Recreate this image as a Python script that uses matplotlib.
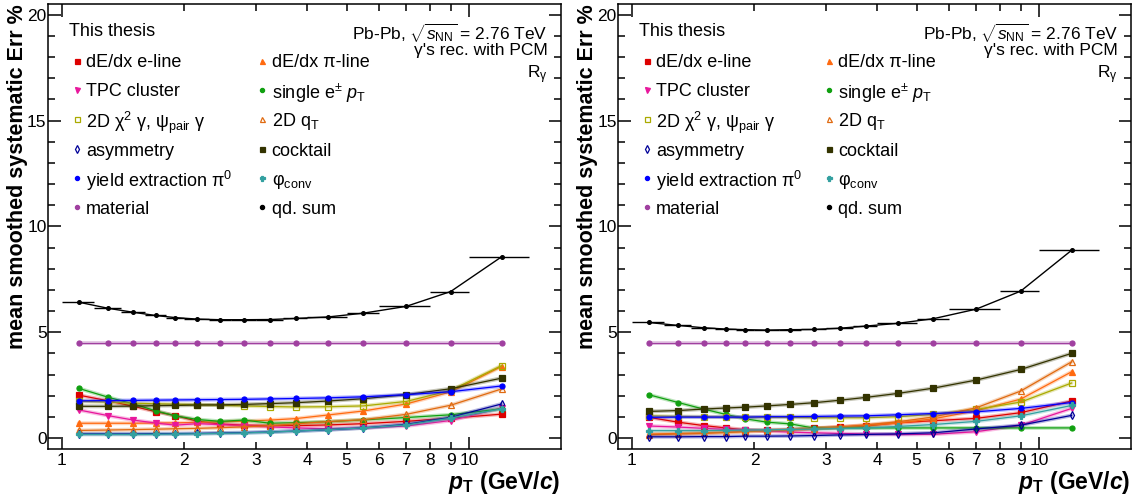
import matplotlib
matplotlib.use('Agg')
import matplotlib.pyplot as plt
import numpy as np
from matplotlib.ticker import FixedLocator, FixedFormatter, MultipleLocator, NullFormatter

plt.rcParams['font.family'] = ['Liberation Sans', 'DejaVu Sans']
plt.rcParams['mathtext.fontset'] = 'custom'
plt.rcParams['mathtext.rm'] = 'Liberation Sans'
plt.rcParams['mathtext.it'] = 'Liberation Sans:italic'
plt.rcParams['mathtext.bf'] = 'Liberation Sans:bold'
try:
    plt.rcParams['mathtext.bfit'] = 'Liberation Sans:bold:italic'
    HAS_BFIT = True
except KeyError:
    HAS_BFIT = False

# ---------------- data ----------------
pt_centers = [1.1, 1.3, 1.5, 1.7, 1.9, 2.15, 2.45, 2.8, 3.25, 3.75, 4.5, 5.5, 7.0, 9.0, 12.0]
pt_low     = [1.0, 1.2, 1.4, 1.6, 1.8, 2.0, 2.3, 2.6, 3.0, 3.5, 4.0, 5.0, 6.0, 8.0, 10.0]
pt_high    = [1.2, 1.4, 1.6, 1.8, 2.0, 2.3, 2.6, 3.0, 3.5, 4.0, 5.0, 6.0, 8.0, 10.0, 14.0]

# left panel
e_line_L   = [2.03, 1.76, 1.50, 1.25, 1.06, 0.80, 0.66, 0.61, 0.59, 0.59, 0.62, 0.68, 0.79, 0.94, 1.13]
pi_line_L  = [0.70, 0.70, 0.70, 0.71, 0.72, 0.74, 0.77, 0.80, 0.85, 0.92, 1.09, 1.28, 1.61, 2.18, 3.38]
tpc_L      = [1.33, 1.06, 0.85, 0.71, 0.61, 0.68, 0.64, 0.58, 0.53, 0.48, 0.44, 0.48, 0.57, 0.83, 1.42]
single_e_L = [2.35, 1.93, 1.61, 1.29, 1.05, 0.88, 0.79, 0.85, 0.70, 0.73, 0.77, 0.86, 0.97, 1.10, 1.38]
chi2_L     = [1.74, 1.70, 1.65, 1.62, 1.60, 1.58, 1.55, 1.52, 1.49, 1.47, 1.48, 1.52, 1.73, 2.25, 3.42]
qt_L       = [0.36, 0.38, 0.40, 0.42, 0.44, 0.46, 0.49, 0.53, 0.59, 0.67, 0.78, 0.87, 1.12, 1.55, 2.32]
asym_L     = [0.20, 0.20, 0.20, 0.21, 0.21, 0.22, 0.24, 0.26, 0.29, 0.33, 0.39, 0.48, 0.65, 0.98, 1.61]
cocktail_L = [1.50, 1.50, 1.51, 1.53, 1.54, 1.56, 1.57, 1.59, 1.63, 1.67, 1.75, 1.86, 2.05, 2.33, 2.83]
yield_L    = [1.76, 1.77, 1.78, 1.79, 1.80, 1.81, 1.82, 1.83, 1.85, 1.87, 1.90, 1.95, 2.05, 2.19, 2.46]
phi_L      = [0.17, 0.17, 0.17, 0.18, 0.19, 0.20, 0.22, 0.24, 0.28, 0.33, 0.40, 0.48, 0.62, 0.94, 1.38]
material_L = [4.5] * 15
qd_sum_L   = [6.42, 6.13, 5.94, 5.79, 5.69, 5.62, 5.59, 5.59, 5.60, 5.65, 5.72, 5.90, 6.22, 6.92, 8.56]

# right panel
e_line_R   = [0.98, 0.75, 0.59, 0.48, 0.39, 0.36, 0.39, 0.47, 0.52, 0.57, 0.72, 0.82, 0.93, 1.20, 1.75]
pi_line_R  = [0.19, 0.22, 0.25, 0.28, 0.32, 0.36, 0.40, 0.45, 0.52, 0.60, 0.71, 0.91, 1.29, 1.84, 3.13]
tpc_R      = [0.57, 0.52, 0.46, 0.41, 0.38, 0.33, 0.28, 0.25, 0.22, 0.19, 0.17, 0.18, 0.30, 0.60, 1.40]
single_e_R = [2.05, 1.68, 1.37, 1.12, 0.91, 0.75, 0.67, 0.47, 0.48, 0.48, 0.48, 0.48, 0.48, 0.48, 0.48]
chi2_R     = [1.05, 1.02, 1.01, 0.99, 0.99, 0.98, 0.98, 0.96, 0.96, 0.96, 1.01, 1.12, 1.35, 1.70, 2.60]
qt_R       = [0.16, 0.19, 0.22, 0.26, 0.30, 0.34, 0.39, 0.45, 0.52, 0.62, 0.77, 1.00, 1.43, 2.22, 3.60]
asym_R     = [0.06, 0.06, 0.07, 0.07, 0.09, 0.09, 0.10, 0.12, 0.15, 0.17, 0.20, 0.25, 0.43, 0.61, 1.07]
cocktail_R = [1.26, 1.30, 1.37, 1.42, 1.46, 1.52, 1.59, 1.67, 1.79, 1.92, 2.11, 2.36, 2.74, 3.24, 4.00]
yield_R    = [0.98, 0.99, 0.99, 0.99, 0.99, 1.01, 1.01, 1.02, 1.04, 1.05, 1.10, 1.16, 1.24, 1.40, 1.68]
phi_R      = [0.35, 0.35, 0.35, 0.36, 0.38, 0.39, 0.41, 0.42, 0.45, 0.47, 0.55, 0.64, 0.79, 1.05, 1.54]
material_R = [4.5] * 15
qd_sum_R   = [5.46, 5.32, 5.21, 5.15, 5.12, 5.10, 5.12, 5.13, 5.19, 5.29, 5.42, 5.64, 6.09, 6.94, 8.87]

labels = [
    'dE/dx e-line', 'dE/dx \u03c0-line', 'TPC cluster', r'single e$^{\pm}$ $p_{\rm T}$',
    '2D \u03c7$^{2}$ \u03b3, \u03c8$_{\\rm pair}$ \u03b3', r'2D q$_{\rm T}$', 'asymmetry', 'cocktail',
    'yield extraction \u03c0$^{0}$', '\u03c6$_{\\rm conv}$', 'material', 'qd. sum',
]
colors  = ['#dd0000', '#ff6a10', '#e8179c', '#10a010', '#aaaa00', '#e06a10',
           '#000099', '#333300', '#0000ff', '#33a0a0', '#a040a0', '#000000']
markers = ['s', '^', 'v', 'o', 's', '^', 'd', 's', 'o', 'P', 'o', 'o']
filled  = [True, True, True, True, False, False, False, True, True, True, True, True]

left_data = [e_line_L, pi_line_L, tpc_L, single_e_L, chi2_L, qt_L, asym_L, cocktail_L,
             yield_L, phi_L, material_L, qd_sum_L]
right_data = [e_line_R, pi_line_R, tpc_R, single_e_R, chi2_R, qt_R, asym_R, cocktail_R,
              yield_R, phi_R, material_R, qd_sum_R]

# ---------------- figure ----------------
fig = plt.figure(figsize=(11.47, 4.98), dpi=100)
ax_rects = [[0.0421, 0.0978, 0.4467, 0.8932], [0.5391, 0.0978, 0.4467, 0.8932]]
# legend column positions (axes fraction) per panel
leg_cols = [(0.056, 0.074, 0.418, 0.436), (0.056, 0.074, 0.411, 0.429)]
row_y = [0.874, 0.808, 0.743, 0.675, 0.609, 0.544]

x = np.array(pt_centers)
xerr = [x - np.array(pt_low), np.array(pt_high) - x]

for p, (rect, data) in enumerate(zip(ax_rects, [left_data, right_data])):
    ax = fig.add_axes(rect)
    ax.set_xscale('log')
    for i, (lab, ys, c, m, f) in enumerate(zip(labels, data, colors, markers, filled)):
        if i == 11:
            ax.plot(x, ys, color=c, lw=1.0, zorder=20)
            ax.errorbar(x, ys, xerr=xerr, fmt='o', color=c, ms=2.6, elinewidth=1.0,
                        capsize=0, zorder=21)
        else:
            ax.plot(x, ys, color=c, lw=2.8, alpha=0.28, zorder=2 + i, solid_capstyle='round')
            ax.plot(x, ys, color=c, lw=0.9, marker=m, ms=4.2 if m != 'o' else 3.6,
                    mfc=c if f else 'none', mec=c, mew=0.9, zorder=3 + i)
    ax.set_xlim(0.927, 16.76)
    ax.set_ylim(-0.53, 20.48)

    # ticks
    ax.xaxis.set_major_locator(FixedLocator([1, 10]))
    ax.xaxis.set_major_formatter(FixedFormatter(['1', '10']))
    ax.xaxis.set_minor_locator(FixedLocator([2, 3, 4, 5, 6, 7, 8, 9]))
    ax.xaxis.set_minor_formatter(FixedFormatter(['2', '3', '4', '5', '6', '7', '8', '9']))
    ax.yaxis.set_major_locator(FixedLocator([0, 5, 10, 15, 20]))
    ax.yaxis.set_minor_locator(MultipleLocator(1))
    ax.yaxis.set_minor_formatter(NullFormatter())
    ax.tick_params(which='both', direction='in', top=True, right=True, width=1.1,
                   labelsize=12.5, colors='black')
    ax.tick_params(which='major', length=9)
    ax.tick_params(which='minor', length=5)
    ax.tick_params(axis='x', which='both', pad=2.5)
    ax.tick_params(axis='y', which='both', pad=1.2)
    for sp in ax.spines.values():
        sp.set_linewidth(1.1)

    # axis labels
    ax.set_ylabel('mean smoothed systematic Err %', fontsize=15.5, fontweight='bold', loc='top')
    ax.yaxis.set_label_coords(-0.040, 1.0)
    if HAS_BFIT:
        xl = r'$\mathbfit{p}_{\mathbf{T}}$ (GeV/$\mathbfit{c}$)'
    else:
        xl = r'$p_{\mathbf{T}}$ (GeV/$c$)'
    ax.set_xlabel(xl, fontsize=16.5, fontweight='bold', loc='right')
    ax.xaxis.set_label_coords(1.0, -0.045)

    # header texts
    ax.text(0.040, 0.944, 'This thesis', transform=ax.transAxes, fontsize=13,
            ha='left', va='center_baseline')
    ax.text(0.975, 0.941, r'Pb-Pb, $\sqrt{s_{\rm NN}}$ = 2.76 TeV', transform=ax.transAxes,
            fontsize=12.5, ha='right', va='center_baseline')
    ax.text(0.975, 0.900, "\u03b3's rec. with PCM", transform=ax.transAxes,
            fontsize=12.5, ha='right', va='center_baseline')
    ax.text(0.975, 0.851, 'R$_{\\mathrm{\u03b3}}$', transform=ax.transAxes,
            fontsize=12.5, ha='right', va='center_baseline')

    # legend (two columns)
    mx1, tx1, mx2, tx2 = leg_cols[p]
    for i, (lab, c, m, f) in enumerate(zip(labels, colors, markers, filled)):
        col = i % 2
        row = i // 2
        mx, tx = (mx1, tx1) if col == 0 else (mx2, tx2)
        yy = row_y[row]
        ax.plot([mx], [yy], transform=ax.transAxes, marker=m, ms=3.6 if m != 'o' else 3.0,
                mfc=c if f else 'none', mec=c, mew=0.9, ls='none', clip_on=False)
        ax.text(tx, yy, lab, transform=ax.transAxes, fontsize=13, ha='left',
                va='center_baseline')

fig.savefig('out.png', dpi=100)
